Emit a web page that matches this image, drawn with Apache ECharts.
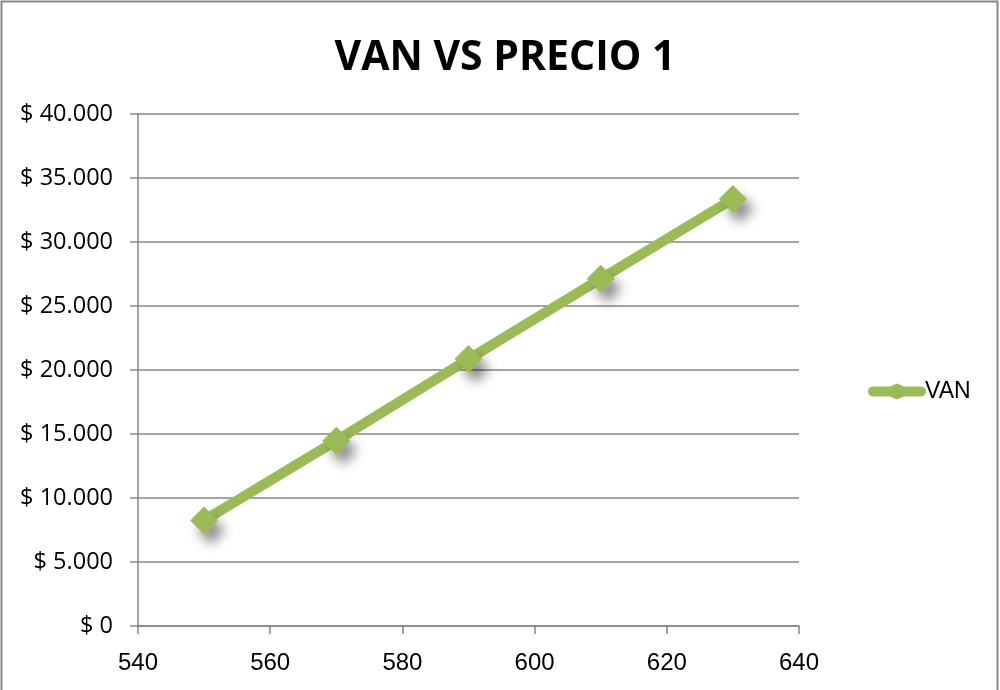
<!DOCTYPE html>
<html>
<head>
<meta charset="utf-8">
<script src="https://cdn.jsdelivr.net/npm/echarts@6/dist/echarts.min.js"></script>
<style>
  html, body { margin: 0; padding: 0; background: #fff; }
  #chart { width: 1000px; height: 690px; }
</style>
</head>
<body>
<div id="chart"></div>
<script>
// Precio de venta (eje X) y VAN resultante (eje Y)
const precios = [550, 570, 590, 610, 630];
const van = [8250, 14480, 20850, 27120, 33360];
const serieNombre = 'VAN';
const titulo = 'VAN VS PRECIO 1';

const green = '#9bbb59';
const gridGray = '#868686';

function pesos(v) {
  const s = String(Math.round(v)).replace(/\B(?=(\d{3})+(?!\d))/g, '.');
  return '$ ' + s;
}

const chart = echarts.init(document.getElementById('chart'), null, { renderer: 'canvas' });
chart.setOption({
  backgroundColor: '#fff',
  animation: false,
  title: {
    text: titulo,
    left: 500,
    textAlign: 'center',
    top: 33,
    textStyle: { fontFamily: 'Open Sans', fontWeight: 'bold', fontSize: 41, color: '#000' }
  },
  legend: {
    left: 863,
    top: 375,
    orient: 'vertical',
    itemWidth: 58,
    itemHeight: 16,
    textStyle: { fontFamily: 'Liberation Sans', fontSize: 23, color: '#000', padding: [0, 0, 0, -6] },
    data: [{ name: serieNombre, icon: 'path://M5,3 L22,3 L29,0 L36,3 L53,3 A5,5 0 0 1 53,13 L36,13 L29,16 L22,13 L5,13 A5,5 0 0 1 5,3 Z' }]
  },
  grid: { left: 138, right: 201, top: 114, bottom: 64, containLabel: false },
  xAxis: {
    type: 'value',
    min: 540, max: 640, interval: 20,
    axisLine: { show: true, lineStyle: { color: gridGray, width: 1.5 } },
    axisTick: { show: true, length: 8, lineStyle: { color: gridGray, width: 1.5 } },
    axisLabel: { fontFamily: 'Liberation Sans', fontSize: 24, color: '#000', margin: 25 },
    splitLine: { show: false }
  },
  yAxis: {
    type: 'value',
    min: 0, max: 40000, interval: 5000,
    axisLine: { show: true, lineStyle: { color: gridGray, width: 1.5 } },
    axisTick: { show: true, length: 8, lineStyle: { color: gridGray, width: 1.5 } },
    axisLabel: { fontFamily: 'Open Sans', fontSize: 23.5, color: '#000', margin: 25, formatter: pesos },
    splitLine: { show: true, lineStyle: { color: gridGray, width: 1.5 } }
  },
  series: [{
    name: serieNombre,
    type: 'line',
    data: precios.map((p, i) => [p, van[i]]),
    symbol: 'diamond',
    symbolSize: 28,
    lineStyle: { color: green, width: 10, cap: 'round', join: 'round' },
    itemStyle: {
      color: green,
      shadowColor: 'rgba(0,0,0,0.45)',
      shadowBlur: 12,
      shadowOffsetX: 7,
      shadowOffsetY: 10
    },
    z: 3
  }],
  graphic: [{
    type: 'rect',
    shape: { x: 1.5, y: 1.5, width: 996, height: 700 },
    style: { fill: 'none', stroke: '#868686', lineWidth: 2 },
    silent: true
  }]
});
</script>
</body>
</html>
